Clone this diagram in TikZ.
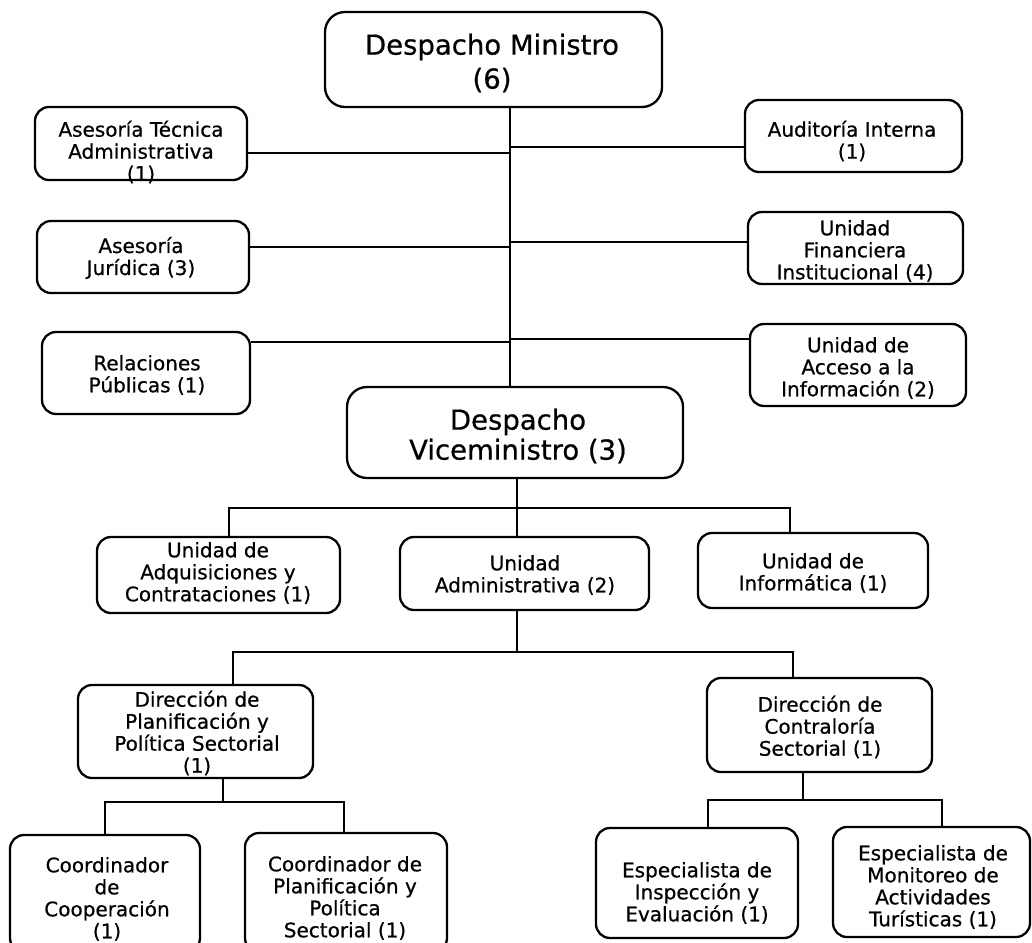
\documentclass[tikz,border=0pt]{standalone}
\usepackage{fontspec}
\setmainfont{DejaVu Sans}[FakeBold=0.6]
\begin{document}
\begin{tikzpicture}[x=1pt,y=-1pt,
  box/.style={draw=black,line width=2.3pt,rounded corners=14pt,inner sep=0pt},
  bigbox/.style={box,rounded corners=20pt},
  txt/.style={align=center,inner sep=0pt,font=\fontsize{20}{22}\selectfont},
  bigtxt/.style={align=center,inner sep=0pt,font=\fontsize{27.5}{34}\selectfont},
  vicetxt/.style={align=center,inner sep=0pt,font=\fontsize{27.5}{30}\selectfont},
  conn/.style={draw=black,line width=1.3pt}]
\useasboundingbox (0,0) rectangle (1032,942);
\fill[white] (0,0) rectangle (1032,942);
\clip (0,0) rectangle (1032,942);

% boxes
\node[bigbox,minimum width=337pt,minimum height=95pt] (dm) at (493.5,59.5) {};
\node[box,minimum width=212pt,minimum height=73pt] (ata) at (141,143.5) {};
\node[box,minimum width=217pt,minimum height=72pt] (ai) at (853.5,136) {};
\node[box,minimum width=212pt,minimum height=72pt] (aj) at (143,257) {};
\node[box,minimum width=215pt,minimum height=72pt] (ufi) at (855.5,248) {};
\node[box,minimum width=208pt,minimum height=82pt] (rp) at (146,373) {};
\node[box,minimum width=216pt,minimum height=82pt] (uai) at (858,365) {};
\node[bigbox,minimum width=336pt,minimum height=91pt] (dv) at (515,432.5) {};
\node[box,minimum width=243pt,minimum height=76pt] (uac) at (218.5,575) {};
\node[box,minimum width=249pt,minimum height=73pt] (ua) at (524.5,573.5) {};
\node[box,minimum width=230pt,minimum height=75pt] (ui) at (813,570.5) {};
\node[box,minimum width=235pt,minimum height=93pt] (dpps) at (195.5,731.5) {};
\node[box,minimum width=225pt,minimum height=94pt] (dcs) at (819.5,725) {};
\node[box,minimum width=190pt,minimum height=117pt] (cc) at (105,893.5) {};
\node[box,minimum width=202pt,minimum height=119pt] (cpps) at (346,892.5) {};
\node[box,minimum width=202pt,minimum height=110pt] (eie) at (697,883) {};
\node[box,minimum width=197pt,minimum height=110pt] (emat) at (931.5,882) {};

% texts
\node[bigtxt] (dm-t) at (492,63) {Despacho Ministro\\(6)};
\node[txt] (ata-t) at (141,152) {Asesoría Técnica\\Administrativa\\(1)};
\node[txt] (ai-t) at (852,141) {Auditoría Interna\\(1)};
\node[txt] (aj-t) at (141,258) {Asesoría\\Jurídica (3)};
\node[txt] (ufi-t) at (855,251) {Unidad\\Financiera\\Institucional (4)};
\node[txt] (rp-t) at (147,375) {Relaciones\\Públicas (1)};
\node[txt] (uai-t) at (858,368) {Unidad de\\Acceso a la\\Información (2)};
\node[vicetxt] (dv-t) at (518,436) {Despacho\\Viceministro (3)};
\node[txt] (uac-t) at (218,573) {Unidad de\\Adquisiciones y\\Contrataciones (1)};
\node[txt] (ua-t) at (525,575) {Unidad\\Administrativa (2)};
\node[txt] (ui-t) at (813,573) {Unidad de\\Informática (1)};
\node[txt] (dpps-t) at (197,733) {Dirección de\\Planificación y\\Política Sectorial\\(1)};
\node[txt] (dcs-t) at (820,727) {Dirección de\\Contraloría\\Sectorial (1)};
\node[txt] (cc-t) at (107,899) {Coordinador\\de\\Cooperación\\(1)};
\node[txt] (cpps-t) at (345,898) {Coordinador de\\Planificación y\\Política\\Sectorial (1)};
\node[txt] (eie-t) at (697,893) {Especialista de\\Inspección y\\Evaluación (1)};
\node[txt] (emat-t) at (933,887) {Especialista de\\Monitoreo de\\Actividades\\Turísticas (1)};

% junction coordinates
\coordinate (tr) at (510,0);
\coordinate (h1l) at (510,153);
\coordinate (h1r) at (510,147);
\coordinate (h2l) at (510,247);
\coordinate (h2r) at (510,242);
\coordinate (h3l) at (510,342);
\coordinate (h3r) at (510,339);
\coordinate (b1) at (517,508);
\coordinate (b1l) at (229,508);
\coordinate (b1r) at (790,508);
\coordinate (b2) at (517,652);
\coordinate (b2l) at (233,652);
\coordinate (b2r) at (793,652);
\coordinate (b3) at (223,802);
\coordinate (b3l) at (105,802);
\coordinate (b3r) at (344,802);
\coordinate (b4) at (803,800);
\coordinate (b4l) at (708,800);
\coordinate (b4r) at (942,800);

% connectors
\draw[conn] (tr |- dm.south) -- (tr |- dv.north);
\draw[conn] (ata.east |- h1l) -- (h1l);
\draw[conn] (h1r) -- (ai.west |- h1r);
\draw[conn] (aj.east |- h2l) -- (h2l);
\draw[conn] (h2r) -- (ufi.west |- h2r);
\draw[conn] (rp.east |- h3l) -- (h3l);
\draw[conn] (h3r) -- (uai.west |- h3r);

\draw[conn] (b1 |- dv.south) -- (b1);
\draw[conn] (b1l |- uac.north) -- (b1l) -- (b1r) -- (b1r |- ui.north);
\draw[conn] (b1) -- (b1 |- ua.north);

\draw[conn] (b2 |- ua.south) -- (b2);
\draw[conn] (b2l |- dpps.north) -- (b2l) -- (b2r) -- (b2r |- dcs.north);

\draw[conn] (b3 |- dpps.south) -- (b3);
\draw[conn] (b3l |- cc.north) -- (b3l) -- (b3r) -- (b3r |- cpps.north);

\draw[conn] (b4 |- dcs.south) -- (b4);
\draw[conn] (b4l |- eie.north) -- (b4l) -- (b4r) -- (b4r |- emat.north);
\end{tikzpicture}
\end{document}
